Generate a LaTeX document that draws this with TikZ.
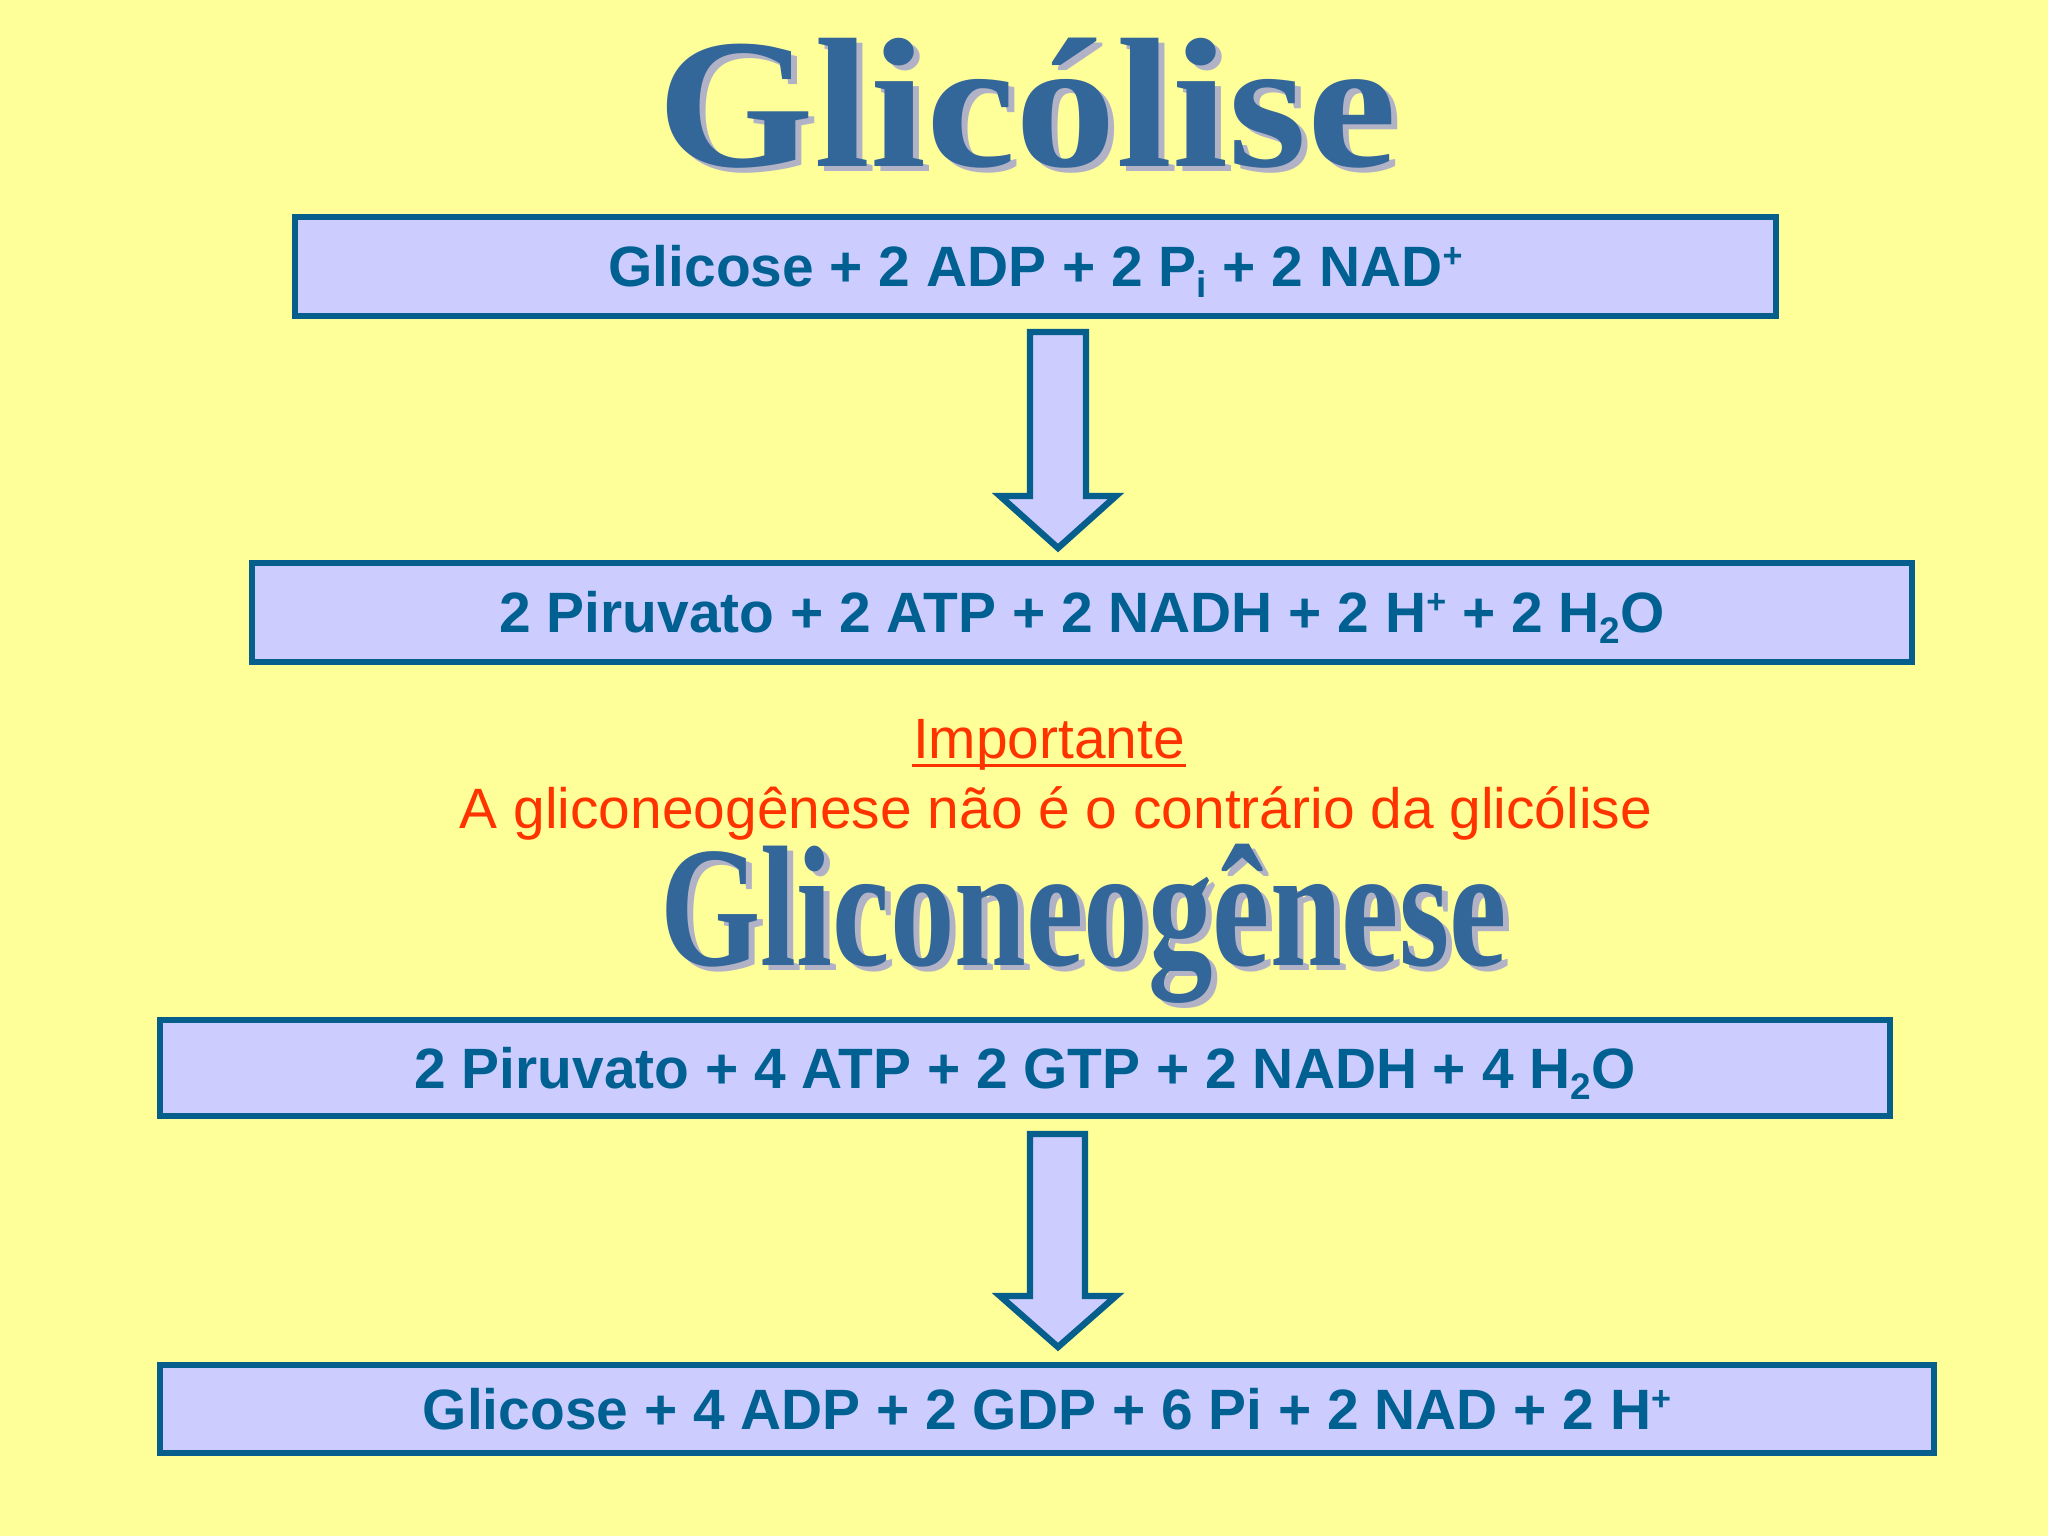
\documentclass[tikz,border=0pt]{standalone}
\usepackage{fontspec}
\newfontfamily\arialf{Liberation Sans}
\newfontfamily\timesf{Liberation Serif}
\definecolor{bg}{RGB}{255,255,153}
\definecolor{boxfill}{RGB}{204,204,255}
\definecolor{boxline}{RGB}{6,94,140}
\definecolor{boxtext}{RGB}{0,96,145}
\definecolor{titleblue}{RGB}{51,102,153}
\definecolor{titleshadow}{RGB}{178,178,198}
\definecolor{redtext}{RGB}{255,51,0}
\def\u{0.3515625pt}
\newcommand\mysup[1]{\raisebox{6.8pt}{\fontsize{12}{12}\selectfont #1}}
\newcommand\mysub[1]{\raisebox{-3.8pt}{\fontsize{13}{13}\selectfont #1}}
\begin{document}
\begin{tikzpicture}[x=0.3515625pt,y=-0.3515625pt,
  eqbox/.style={draw=boxline, fill=boxfill, line width=6.4*\u, inner sep=0pt,
    text=boxtext, font=\arialf\bfseries\fontsize{20}{24}\selectfont,
    text height=14.3pt, text depth=0pt},
  blockarrow/.style={draw=boxline, fill=boxfill, line width=6.4*\u, line join=miter},
  titlefont/.style={font=\timesf\bfseries\fontsize{65}{70}\selectfont, inner sep=0pt, anchor=base west},
  title2font/.style={font=\timesf\bfseries\fontsize{60.5}{66}\selectfont, inner sep=0pt, anchor=base west},
  redfont/.style={font=\arialf\fontsize{20}{24}\selectfont, text=redtext, inner sep=0pt, anchor=base}
]
\fill[bg] (0,0) rectangle (2048,1536);
\useasboundingbox (0,0) rectangle (2048,1536);

% Title 1
\node[titlefont, text=titleshadow] (t1s) at (663,172) {\scalebox{1.09}[1]{Glicólise}};
\node[titlefont, text=titleblue] (t1) at (657,167) {\scalebox{1.09}[1]{Glicólise}};

% Boxes
\node[eqbox, minimum width=1481*\u, minimum height=99*\u] (b1) at (1035.5,266.5)
  {Glicose + 2 ADP + 2 P\mysub{i} + 2 NAD\mysup{+}};
\node[eqbox, minimum width=1660*\u, minimum height=99*\u] (b2) at (1082,612.5)
  {2 Piruvato + 2 ATP + 2 NADH + 2 H\mysup{+} + 2 H\mysub{2}O};

% Arrow 1
\draw[blockarrow] (1030,332) -- (1086,332) -- (1086,496) -- (1116,496) -- (1058,548)
  -- (1000,496) -- (1030,496) -- cycle;

% Red notes
\node[redfont] (imp) at (1049,759) {Importante};
\draw[redtext, line width=3*\u] ([yshift=-6*\u]imp.base west) -- ([yshift=-6*\u]imp.base east);
\node[redfont] (note) at (1056,828) {A gliconeogênese não é o contrário da glicólise};

% Title 2
\node[title2font, text=titleshadow] (t2s) at (666,970) {\scalebox{0.75}[1]{Gliconeogênese}};
\node[title2font, text=titleblue] (t2) at (660,965) {\scalebox{0.75}[1]{Gliconeogênese}};

% Boxes 3 and 4
\node[eqbox, minimum width=1730*\u, minimum height=96*\u] (b3) at (1025,1068)
  {2 Piruvato + 4 ATP + 2 GTP + 2 NADH + 4 H\mysub{2}O};
\node[eqbox, minimum width=1774*\u, minimum height=88*\u] (b4) at (1047,1409)
  {Glicose + 4 ADP + 2 GDP + 6 Pi + 2 NAD + 2 H\mysup{+}};

% Arrow 2
\draw[blockarrow] (1030,1134) -- (1085,1134) -- (1085,1296) -- (1116,1296) -- (1058,1347)
  -- (1000,1296) -- (1030,1296) -- cycle;
\end{tikzpicture}
\end{document}
